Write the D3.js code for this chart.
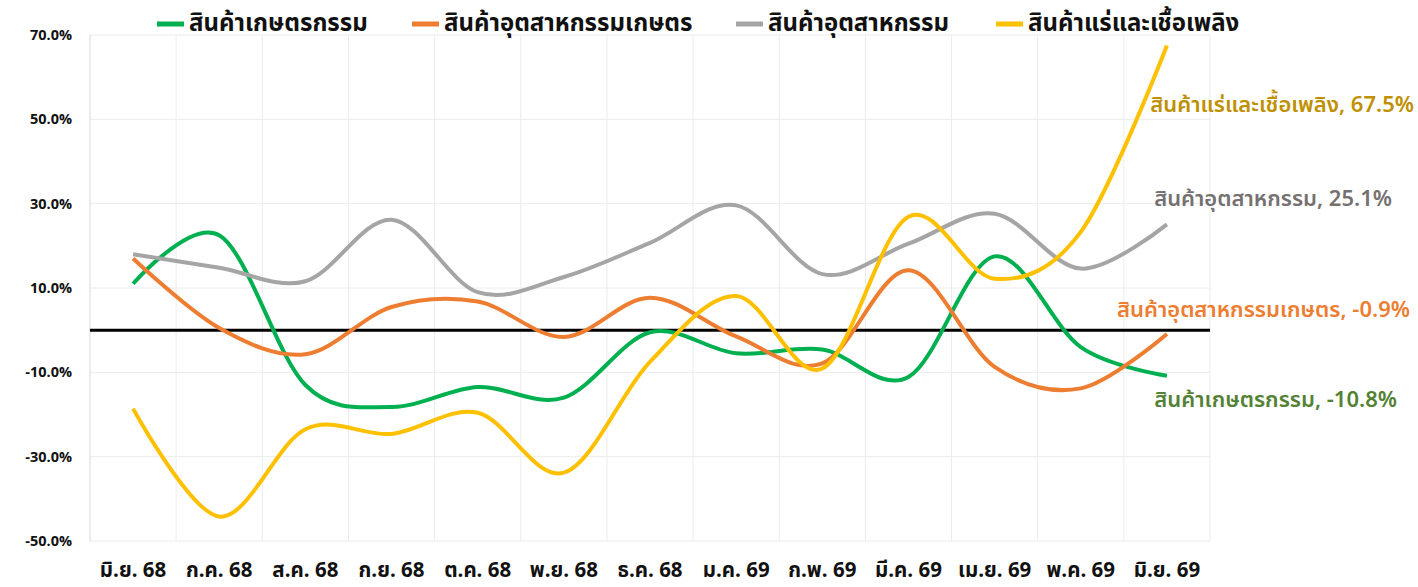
<!DOCTYPE html>
<html lang="th">
<head>
  <meta charset="UTF-8">
  <title>สินค้าส่งออก</title>
  <script src="https://cdn.jsdelivr.net/npm/d3@7"></script>
  <style>
    body { margin: 0; background: #fff; }
    svg text { font-family: "Noto Sans Thai", "Noto Sans", "Liberation Sans", sans-serif; }
    .ytick text { font-size: 14.5px; font-weight: 700; fill: #111; }
    .xtick text { font-size: 20.5px; font-weight: 700; fill: #111; }
    .legend text { font-size: 24px; font-weight: 700; fill: #111; }
    .endlabel { font-size: 22px; font-weight: 600; }
  </style>
</head>
<body>
<div id="chart"></div>

<script type="text/javascript">

  // categories + series (percent)
  var months = ["มิ.ย. 68", "ก.ค. 68", "ส.ค. 68", "ก.ย. 68", "ต.ค. 68", "พ.ย. 68", "ธ.ค. 68",
                "ม.ค. 69", "ก.พ. 69", "มี.ค. 69", "เม.ย. 69", "พ.ค. 69", "มิ.ย. 69"];

  var agri     = [11.0, 22.5, -13.0, -18.2, -13.5, -16.0, -0.5, -5.5, -4.6, -11.1, 17.5, -4.0, -10.8];
  var agroInd  = [17.0, 0.5, -5.7, 5.5, 6.8, -1.6, 7.7, -1.5, -7.9, 14.2, -8.7, -13.8, -0.9];
  var industry = [18.0, 14.8, 11.6, 26.2, 9.0, 12.6, 20.7, 29.6, 13.3, 20.5, 27.6, 14.6, 25.1];
  var mineral  = [-18.6, -44.2, -23.5, -24.6, -19.6, -33.8, -7.5, 8.1, -9.1, 26.9, 12.2, 23.3, 67.5];

  var seriesNames = ["สินค้าเกษตรกรรม", "สินค้าอุตสาหกรรมเกษตร", "สินค้าอุตสาหกรรม", "สินค้าแร่และเชื้อเพลิง"];
  var yTicks = [-50, -30, -10, 10, 30, 50, 70];
  var yTickLabels = ["-50.0%", "-30.0%", "-10.0%", "10.0%", "30.0%", "50.0%", "70.0%"];

  var series = [
    { name: seriesNames[0], values: agri,     color: "#00B050", label: "#548235", dy: 25,  x: 1397 },
    { name: seriesNames[1], values: agroInd,  color: "#ED7D31", label: "#ED7D31", dy: -23, x: 1410 },
    { name: seriesNames[2], values: industry, color: "#A5A5A5", label: "#767171", dy: -24, x: 1392 },
    { name: seriesNames[3], values: mineral,  color: "#FFC000", label: "#BF9000", dy: 60,  x: 1414 }
  ];

  var W = 1418, H = 587;
  var svg = d3.select("#chart").append("svg")
    .attr("width", W)
    .attr("height", H);

  var x = d3.scaleBand().domain(months).range([90, 1210]).padding(0);
  var y = d3.scaleLinear().domain([-50, 70]).range([541, 35]);

  // grid
  var grid = svg.append("g");
  grid.selectAll("line.h")
    .data(yTicks)
    .enter().append("line")
      .attr("x1", 90).attr("x2", 1210)
      .attr("y1", function(d){ return y(d); })
      .attr("y2", function(d){ return y(d); })
      .attr("stroke", "#ececec").attr("stroke-width", 1);
  grid.selectAll("line.v")
    .data(d3.range(months.length + 1))
    .enter().append("line")
      .attr("x1", function(i){ return 90 + i * x.step(); })
      .attr("x2", function(i){ return 90 + i * x.step(); })
      .attr("y1", y(70)).attr("y2", y(-50))
      .attr("stroke", function(i){ return i === 0 ? "#d9d9d9" : "#ececec"; })
      .attr("stroke-width", 1);

  // zero line
  svg.append("line")
    .attr("x1", 90).attr("x2", 1210)
    .attr("y1", y(0)).attr("y2", y(0))
    .attr("stroke", "#000").attr("stroke-width", 3);

  // y axis
  var yAxis = svg.append("g")
    .attr("class", "ytick")
    .attr("transform", "translate(90,0)")
    .call(d3.axisLeft(y).tickValues(yTicks).tickSize(0).tickPadding(18)
      .tickFormat(function(d, i){ return yTickLabels[i]; }));
  yAxis.select(".domain").remove();

  // x axis
  var xAxis = svg.append("g")
    .attr("class", "xtick")
    .attr("transform", "translate(0," + y(-50) + ")")
    .call(d3.axisBottom(x).tickSize(0).tickPadding(21));
  xAxis.select(".domain").remove();

  // lines
  var line = d3.line()
    .x(function(d, i){ return x(months[i]) + x.bandwidth() / 2; })
    .y(function(d){ return y(d); })
    .curve(d3.curveCardinal.tension(0));

  svg.selectAll("path.series")
    .data(series)
    .enter().append("path")
      .attr("class", "series")
      .attr("fill", "none")
      .attr("stroke", function(d){ return d.color; })
      .attr("stroke-width", 4)
      .attr("stroke-linecap", "butt")
      .attr("d", function(d){ return line(d.values); });

  // end labels
  svg.selectAll("text.endlabel")
    .data(series)
    .enter().append("text")
      .attr("class", "endlabel")
      .attr("x", function(d){ return d.x; })
      .attr("y", function(d){ return y(d.values[d.values.length - 1]) + d.dy; })
      .attr("text-anchor", "end")
      .attr("dominant-baseline", "middle")
      .attr("fill", function(d){ return d.label; })
      .text(function(d){
        var v = d.values[d.values.length - 1];
        return d.name + ", " + v.toFixed(1) + "%";
      });

  // legend
  var legendX = [157, 412, 736, 996];
  var legend = svg.append("g").attr("class", "legend");
  var items = legend.selectAll("g")
    .data(series)
    .enter().append("g")
      .attr("transform", function(d, i){ return "translate(" + legendX[i] + ",24)"; });
  items.append("line")
    .attr("x1", 0).attr("x2", 27)
    .attr("stroke", function(d){ return d.color; })
    .attr("stroke-width", 5);
  items.append("text")
    .attr("x", 32)
    .attr("dominant-baseline", "middle")
    .text(function(d){ return d.name; });

</script>
</body>
</html>
